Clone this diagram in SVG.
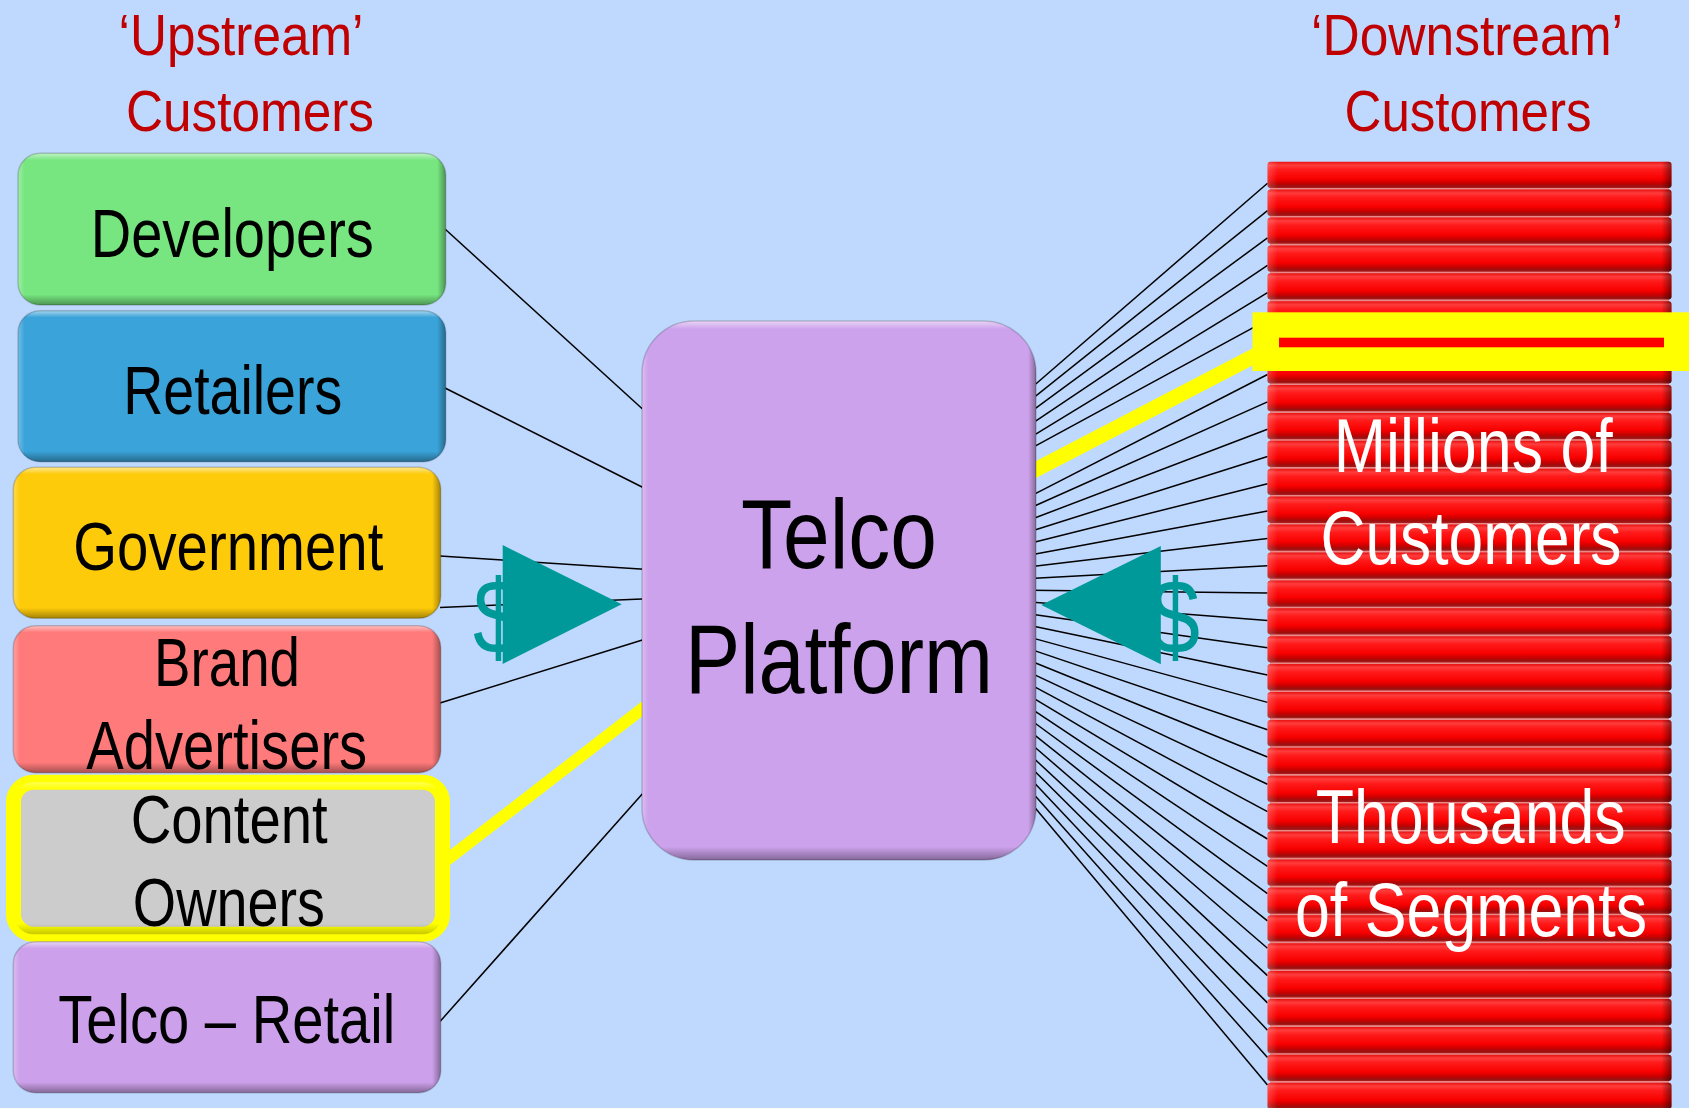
<svg xmlns="http://www.w3.org/2000/svg" xmlns:xlink="http://www.w3.org/1999/xlink" width="1689" height="1108" viewBox="0 0 1689 1108">
<defs>
<style>
.t{font-family:"Liberation Sans",Arial,sans-serif;text-anchor:middle}
.lbl{font-size:68px;fill:#000}
.big{font-size:99px;fill:#000}
.hdr{font-size:58px;fill:#c00000}
.wht{font-size:76px;fill:#fff}
.dol{font-family:"Liberation Sans",Arial,sans-serif;font-size:106px;fill:#009999;text-anchor:middle}
.ln{stroke:#000;stroke-width:1.5;fill:none}
.yl{stroke:#ffff00;fill:none;stroke-linecap:butt}
.edge{fill:none;stroke:#000;stroke-opacity:0.18;stroke-width:1.5}
.tri{fill:#009999}
</style>
<linearGradient id="bevV" x1="0" y1="0" x2="0" y2="1">
<stop offset="0" stop-color="#fff" stop-opacity="0.55"/>
<stop offset="0.045" stop-color="#fff" stop-opacity="0"/>
<stop offset="0.93" stop-color="#000" stop-opacity="0"/>
<stop offset="1" stop-color="#000" stop-opacity="0.35"/>
</linearGradient>
<linearGradient id="bevH" x1="0" y1="0" x2="1" y2="0">
<stop offset="0" stop-color="#fff" stop-opacity="0.3"/>
<stop offset="0.015" stop-color="#fff" stop-opacity="0"/>
<stop offset="0.98" stop-color="#000" stop-opacity="0"/>
<stop offset="1" stop-color="#000" stop-opacity="0.35"/>
</linearGradient>
<linearGradient id="bevVbig" x1="0" y1="0" x2="0" y2="1">
<stop offset="0" stop-color="#fff" stop-opacity="0.55"/>
<stop offset="0.015" stop-color="#fff" stop-opacity="0"/>
<stop offset="0.975" stop-color="#000" stop-opacity="0"/>
<stop offset="1" stop-color="#000" stop-opacity="0.35"/>
</linearGradient>
<linearGradient id="stripeG" x1="0" y1="0" x2="0" y2="1">
<stop offset="0" stop-color="#e81010"/>
<stop offset="0.13" stop-color="#ff3c3c"/>
<stop offset="0.3" stop-color="#ff1a1a"/>
<stop offset="0.65" stop-color="#f80000"/>
<stop offset="0.82" stop-color="#c80000"/>
<stop offset="0.93" stop-color="#991010"/>
<stop offset="1" stop-color="#b02020"/>
</linearGradient>
<linearGradient id="stripeH" x1="0" y1="0" x2="1" y2="0">
<stop offset="0" stop-color="#fff" stop-opacity="0.2"/>
<stop offset="0.025" stop-color="#fff" stop-opacity="0"/>
<stop offset="0.975" stop-color="#000" stop-opacity="0"/>
<stop offset="1" stop-color="#000" stop-opacity="0.45"/>
</linearGradient>
<g id="stripe">
<rect x="0" y="0" width="404" height="26.3" rx="3" fill="url(#stripeG)"/>
<rect x="0" y="0" width="404" height="26.3" rx="3" fill="url(#stripeH)"/>
</g>
</defs>

<rect x="0" y="0" width="1689" height="1108" fill="#bfd8fd"/>

<g id="connectors">
<line class="ln" x1="445" y1="229" x2="648" y2="414"/>
<line class="ln" x1="445" y1="388" x2="648" y2="490"/>
<line class="ln" x1="440" y1="556" x2="648" y2="569.4"/>
<line class="ln" x1="440" y1="607.5" x2="648" y2="598.7"/>
<line class="ln" x1="440" y1="703" x2="648" y2="638.2"/>
<line class="ln" x1="440" y1="1021.5" x2="648" y2="787.5"/>
<line class="yl" stroke-width="12" x1="446" y1="860.6" x2="650" y2="702.8"/>

<line class="ln" x1="1030" y1="389.0" x2="1267.5" y2="183.3"/>
<line class="ln" x1="1030" y1="400.7" x2="1267.5" y2="210.6"/>
<line class="ln" x1="1030" y1="412.4" x2="1267.5" y2="237.9"/>
<line class="ln" x1="1030" y1="424.9" x2="1267.5" y2="265.3"/>
<line class="ln" x1="1030" y1="437.6" x2="1267.5" y2="292.6"/>
<line class="ln" x1="1030" y1="448.9" x2="1267.5" y2="319.9"/>
<line class="ln" x1="1030" y1="472.7" x2="1267.5" y2="347.2"/>
<line class="ln" x1="1030" y1="496.3" x2="1267.5" y2="374.5"/>
<line class="ln" x1="1030" y1="508.0" x2="1267.5" y2="401.9"/>
<line class="ln" x1="1030" y1="519.8" x2="1267.5" y2="429.2"/>
<line class="ln" x1="1030" y1="531.5" x2="1267.5" y2="456.5"/>
<line class="ln" x1="1030" y1="543.3" x2="1267.5" y2="483.8"/>
<line class="ln" x1="1030" y1="555.1" x2="1267.5" y2="511.1"/>
<line class="ln" x1="1030" y1="566.8" x2="1267.5" y2="538.5"/>
<line class="ln" x1="1030" y1="578.6" x2="1267.5" y2="565.8"/>
<line class="ln" x1="1030" y1="590.3" x2="1267.5" y2="593.1"/>
<line class="ln" x1="1030" y1="602.1" x2="1267.5" y2="620.4"/>
<line class="ln" x1="1030" y1="613.9" x2="1267.5" y2="647.7"/>
<line class="ln" x1="1030" y1="625.6" x2="1267.5" y2="675.1"/>
<line class="ln" x1="1030" y1="637.4" x2="1267.5" y2="702.4"/>
<line class="ln" x1="1030" y1="649.1" x2="1267.5" y2="729.7"/>
<line class="ln" x1="1030" y1="660.8" x2="1267.5" y2="757.0"/>
<line class="ln" x1="1030" y1="672.6" x2="1267.5" y2="784.3"/>
<line class="ln" x1="1030" y1="684.3" x2="1267.5" y2="811.7"/>
<line class="ln" x1="1030" y1="696.1" x2="1267.5" y2="839.0"/>
<line class="ln" x1="1030" y1="707.8" x2="1267.5" y2="866.3"/>
<line class="ln" x1="1030" y1="719.5" x2="1267.5" y2="893.6"/>
<line class="ln" x1="1030" y1="731.3" x2="1267.5" y2="920.9"/>
<line class="ln" x1="1030" y1="743.0" x2="1267.5" y2="948.3"/>
<line class="ln" x1="1030" y1="754.8" x2="1267.5" y2="975.6"/>
<line class="ln" x1="1030" y1="766.5" x2="1267.5" y2="1002.9"/>
<line class="ln" x1="1030" y1="778.2" x2="1267.5" y2="1030.2"/>
<line class="ln" x1="1030" y1="790.0" x2="1267.5" y2="1057.5"/>
<line class="ln" x1="1030" y1="801.7" x2="1267.5" y2="1084.9"/>
<line class="yl" stroke-width="15" x1="1030" y1="472.6" x2="1262" y2="352"/>
</g>

<g id="header-upstream">
<text class="t hdr" x="241" y="55" textLength="245" lengthAdjust="spacingAndGlyphs">‘Upstream’</text>
<text class="t hdr" x="250" y="131" textLength="248" lengthAdjust="spacingAndGlyphs">Customers</text>
</g>
<g id="header-downstream">
<text class="t hdr" x="1467" y="55" textLength="312" lengthAdjust="spacingAndGlyphs">‘Downstream’</text>
<text class="t hdr" x="1468" y="131" textLength="247" lengthAdjust="spacingAndGlyphs">Customers</text>
</g>

<g id="node-developers">
<rect x="18" y="153.3" width="427.7" height="151.7" rx="22" fill="#77e680"/>
<rect x="18" y="153.3" width="427.7" height="151.7" rx="22" fill="url(#bevV)"/>
<rect x="18" y="153.3" width="427.7" height="151.7" rx="22" fill="url(#bevH)"/>
<rect class="edge" x="18" y="153.3" width="427.7" height="151.7" rx="22"/>
<text class="t lbl" x="232.3" y="256.7" textLength="283" lengthAdjust="spacingAndGlyphs">Developers</text>
</g>

<g id="node-retailers">
<rect x="18" y="310.7" width="427.7" height="151" rx="22" fill="#3aa3d9"/>
<rect x="18" y="310.7" width="427.7" height="151" rx="22" fill="url(#bevV)"/>
<rect x="18" y="310.7" width="427.7" height="151" rx="22" fill="url(#bevH)"/>
<rect class="edge" x="18" y="310.7" width="427.7" height="151" rx="22"/>
<text class="t lbl" x="232.7" y="414" textLength="219" lengthAdjust="spacingAndGlyphs">Retailers</text>
</g>

<g id="node-government">
<rect x="13.3" y="467.3" width="427.4" height="151" rx="22" fill="#fecb0b"/>
<rect x="13.3" y="467.3" width="427.4" height="151" rx="22" fill="url(#bevV)"/>
<rect x="13.3" y="467.3" width="427.4" height="151" rx="22" fill="url(#bevH)"/>
<rect class="edge" x="13.3" y="467.3" width="427.4" height="151" rx="22"/>
<text class="t lbl" x="228.3" y="570" textLength="310" lengthAdjust="spacingAndGlyphs">Government</text>
</g>

<g id="node-brand-advertisers">
<rect x="13.3" y="625.7" width="427.4" height="147" rx="22" fill="#ff7a7a"/>
<rect x="13.3" y="625.7" width="427.4" height="147" rx="22" fill="url(#bevV)"/>
<rect x="13.3" y="625.7" width="427.4" height="147" rx="22" fill="url(#bevH)"/>
<rect class="edge" x="13.3" y="625.7" width="427.4" height="147" rx="22"/>
<text class="t lbl" x="227" y="686" textLength="146" lengthAdjust="spacingAndGlyphs">Brand</text>
<text class="t lbl" x="226.7" y="769.3" textLength="281" lengthAdjust="spacingAndGlyphs">Advertisers</text>
</g>

<g id="node-content-owners">
<rect x="13.5" y="782.2" width="429" height="152" rx="20" fill="#cccccc" stroke="#ffff00" stroke-width="15"/>
<rect x="13.5" y="782.2" width="429" height="152" rx="20" fill="url(#bevV)" opacity="0.6"/>
<text class="t lbl" x="229.2" y="843.3" textLength="197" lengthAdjust="spacingAndGlyphs">Content</text>
<text class="t lbl" x="228.8" y="926" textLength="192" lengthAdjust="spacingAndGlyphs">Owners</text>
</g>

<g id="node-telco-retail">
<rect x="13.3" y="941.7" width="427.4" height="151" rx="22" fill="#cca0ea"/>
<rect x="13.3" y="941.7" width="427.4" height="151" rx="22" fill="url(#bevV)"/>
<rect x="13.3" y="941.7" width="427.4" height="151" rx="22" fill="url(#bevH)"/>
<rect class="edge" x="13.3" y="941.7" width="427.4" height="151" rx="22"/>
<text class="t lbl" x="226.7" y="1043.3" textLength="337" lengthAdjust="spacingAndGlyphs">Telco – Retail</text>
</g>

<g id="node-telco-platform">
<rect x="642" y="321" width="394" height="539" rx="52" fill="#cda2ec"/>
<rect x="642" y="321" width="394" height="539" rx="52" fill="url(#bevVbig)"/>
<rect x="642" y="321" width="394" height="539" rx="52" fill="url(#bevH)"/>
<rect class="edge" x="642" y="321" width="394" height="539" rx="52"/>
<text class="t big" x="839" y="568" textLength="196" lengthAdjust="spacingAndGlyphs">Telco</text>
<text class="t big" x="839" y="693" textLength="308" lengthAdjust="spacingAndGlyphs">Platform</text>
</g>

<g id="node-downstream-customers">
<rect x="1270" y="162" width="399" height="946" fill="#e88a8a"/>
<use xlink:href="#stripe" href="#stripe" x="1267.5" y="161.7"/>
<use xlink:href="#stripe" href="#stripe" x="1267.5" y="189.6"/>
<use xlink:href="#stripe" href="#stripe" x="1267.5" y="217.5"/>
<use xlink:href="#stripe" href="#stripe" x="1267.5" y="245.4"/>
<use xlink:href="#stripe" href="#stripe" x="1267.5" y="273.3"/>
<use xlink:href="#stripe" href="#stripe" x="1267.5" y="301.3"/>
<use xlink:href="#stripe" href="#stripe" x="1267.5" y="329.2"/>
<use xlink:href="#stripe" href="#stripe" x="1267.5" y="357.1"/>
<use xlink:href="#stripe" href="#stripe" x="1267.5" y="385.0"/>
<use xlink:href="#stripe" href="#stripe" x="1267.5" y="412.9"/>
<use xlink:href="#stripe" href="#stripe" x="1267.5" y="440.8"/>
<use xlink:href="#stripe" href="#stripe" x="1267.5" y="468.7"/>
<use xlink:href="#stripe" href="#stripe" x="1267.5" y="496.6"/>
<use xlink:href="#stripe" href="#stripe" x="1267.5" y="524.5"/>
<use xlink:href="#stripe" href="#stripe" x="1267.5" y="552.4"/>
<use xlink:href="#stripe" href="#stripe" x="1267.5" y="580.4"/>
<use xlink:href="#stripe" href="#stripe" x="1267.5" y="608.3"/>
<use xlink:href="#stripe" href="#stripe" x="1267.5" y="636.2"/>
<use xlink:href="#stripe" href="#stripe" x="1267.5" y="664.1"/>
<use xlink:href="#stripe" href="#stripe" x="1267.5" y="692.0"/>
<use xlink:href="#stripe" href="#stripe" x="1267.5" y="719.9"/>
<use xlink:href="#stripe" href="#stripe" x="1267.5" y="747.8"/>
<use xlink:href="#stripe" href="#stripe" x="1267.5" y="775.7"/>
<use xlink:href="#stripe" href="#stripe" x="1267.5" y="803.6"/>
<use xlink:href="#stripe" href="#stripe" x="1267.5" y="831.5"/>
<use xlink:href="#stripe" href="#stripe" x="1267.5" y="859.5"/>
<use xlink:href="#stripe" href="#stripe" x="1267.5" y="887.4"/>
<use xlink:href="#stripe" href="#stripe" x="1267.5" y="915.3"/>
<use xlink:href="#stripe" href="#stripe" x="1267.5" y="943.2"/>
<use xlink:href="#stripe" href="#stripe" x="1267.5" y="971.1"/>
<use xlink:href="#stripe" href="#stripe" x="1267.5" y="999.0"/>
<use xlink:href="#stripe" href="#stripe" x="1267.5" y="1026.9"/>
<use xlink:href="#stripe" href="#stripe" x="1267.5" y="1054.8"/>
<use xlink:href="#stripe" href="#stripe" x="1267.5" y="1082.7"/>
<rect x="1252.5" y="312.3" width="440" height="58.7" fill="#ffff00"/>
<rect x="1279" y="337.7" width="385" height="9.6" fill="#ff0000"/>
<text class="t wht" x="1473.3" y="471.7" textLength="279" lengthAdjust="spacingAndGlyphs">Millions of</text>
<text class="t wht" x="1471" y="564" textLength="301" lengthAdjust="spacingAndGlyphs">Customers</text>
<text class="t wht" x="1470.7" y="842.7" textLength="310" lengthAdjust="spacingAndGlyphs">Thousands</text>
<text class="t wht" x="1471" y="936" textLength="352" lengthAdjust="spacingAndGlyphs">of Segments</text>
</g>

<g id="flow-upstream-payment">
<text class="dol" x="498" y="653.5" textLength="50" lengthAdjust="spacingAndGlyphs">$</text>
<polygon class="tri" points="502.7,545 502.7,664 621.7,604.3"/>
</g>
<g id="flow-downstream-payment">
<text class="dol" x="1175" y="653.5" textLength="50" lengthAdjust="spacingAndGlyphs">$</text>
<polygon class="tri" points="1041.3,605 1160.8,546 1160.8,664.3"/>
</g>
</svg>
